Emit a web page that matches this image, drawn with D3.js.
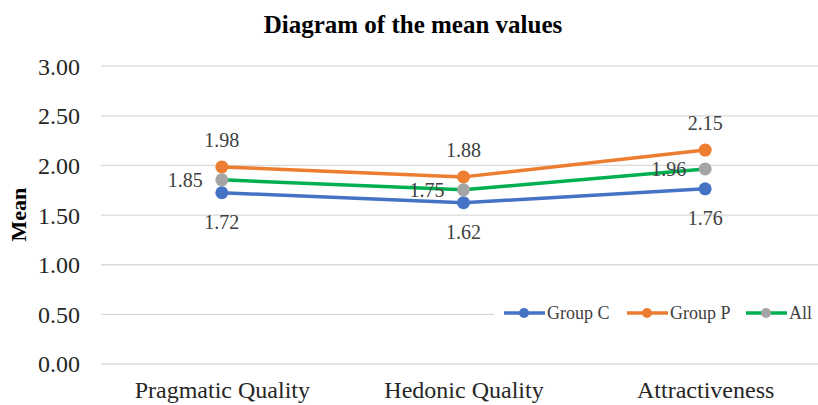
<!DOCTYPE html>
<html>
<head>
<meta charset="utf-8">
<script src="https://cdn.jsdelivr.net/npm/d3@7"></script>
<style>
  html, body { margin: 0; padding: 0; background: #fff; }
  svg { display: block; font-family: "Liberation Serif", "Times New Roman", serif; }
</style>
</head>
<body>
<svg id="chart" width="818" height="405"></svg>
<script>
const categories = ["Pragmatic Quality", "Hedonic Quality", "Attractiveness"];
const seriesNames = ["Group C", "Group P", "All"];
const groupC = [1.72, 1.62, 1.76];
const groupP = [1.98, 1.88, 2.15];
const all = [1.85, 1.75, 1.96];
const yTicks = [0, 0.5, 1, 1.5, 2, 2.5, 3];

const lineColors = ["#4472C4", "#ED7D31", "#00B050"];
const markerColors = ["#4472C4", "#ED7D31", "#A5A5A5"];
const labelPos = ["below", "above", "left"];
const seriesValues = [groupC, groupP, all];

const svg = d3.select("#chart");
const plotLeft = 101, plotRight = 826, plotTop = 65.7, plotBottom = 363.5;

const x = d3.scalePoint().domain(categories).range([plotLeft, plotRight]).padding(0.5);
const y = d3.scaleLinear().domain([0, 3]).range([plotBottom, plotTop]);

// Title
svg.append("text")
  .attr("x", 413).attr("y", 33)
  .attr("text-anchor", "middle")
  .attr("font-weight", "bold")
  .attr("font-size", 25)
  .attr("fill", "#000")
  .text("Diagram of the mean values");

// Gridlines + y tick labels
const yAxis = d3.axisLeft(y).tickValues(yTicks).tickSize(-(plotRight - plotLeft)).tickFormat(d3.format(".2f")).tickPadding(21);
const gy = svg.append("g").attr("transform", `translate(${plotLeft},0)`).call(yAxis);
gy.select(".domain").remove();
gy.selectAll(".tick line").attr("stroke", "#D9D9D9").attr("stroke-width", 1.3);
gy.selectAll(".tick text")
  .attr("font-family", "Liberation Serif, serif")
  .attr("font-size", 24)
  .attr("fill", "#262626")
  .attr("dy", "0.35em");

// X axis labels
const xAxis = d3.axisBottom(x).tickSize(0).tickPadding(17);
const gx = svg.append("g").attr("transform", `translate(0,${plotBottom})`).call(xAxis);
gx.select(".domain").remove();
gx.selectAll(".tick text")
  .attr("font-family", "Liberation Serif, serif")
  .attr("font-size", 24)
  .attr("fill", "#262626");

// Y axis title
svg.append("text")
  .attr("transform", `translate(26,${(plotTop + plotBottom) / 2}) rotate(-90)`)
  .attr("text-anchor", "middle")
  .attr("font-weight", "bold")
  .attr("font-size", 22)
  .attr("fill", "#000")
  .text("Mean");

// Lines and markers
const line = d3.line().x((d, i) => x(categories[i])).y(d => y(d));
seriesValues.forEach((vals, s) => {
  svg.append("path")
    .datum(vals)
    .attr("fill", "none")
    .attr("stroke", lineColors[s])
    .attr("stroke-width", 3.5)
    .attr("stroke-linejoin", "round")
    .attr("d", line);
  svg.selectAll(null).data(vals).enter().append("circle")
    .attr("cx", (d, i) => x(categories[i]))
    .attr("cy", d => y(d))
    .attr("r", 6.5)
    .attr("fill", markerColors[s]);
});

// Data labels
seriesValues.forEach((vals, s) => {
  svg.selectAll(null).data(vals).enter().append("text")
    .attr("x", (d, i) => labelPos[s] === "left" ? x(categories[i]) - 19 : x(categories[i]))
    .attr("y", d => labelPos[s] === "above" ? y(d) - 20 : labelPos[s] === "below" ? y(d) + 36 : y(d) + 7)
    .attr("text-anchor", labelPos[s] === "left" ? "end" : "middle")
    .attr("font-size", 20)
    .attr("fill", "#404040")
    .text(d => d.toFixed(2));
});

// Legend
const legend = svg.append("g");
legend.append("rect").attr("x", 494).attr("y", 301).attr("width", 330).attr("height", 25).attr("fill", "#fff");
const legendX = [504, 627, 746];
seriesNames.forEach((name, s) => {
  const lx = legendX[s], ly = 313;
  legend.append("line").attr("x1", lx).attr("x2", lx + 41).attr("y1", ly).attr("y2", ly)
    .attr("stroke", lineColors[s]).attr("stroke-width", 3.5);
  legend.append("circle").attr("cx", lx + 20).attr("cy", ly).attr("r", 5).attr("fill", markerColors[s]);
  legend.append("text").attr("x", lx + 43).attr("y", ly + 6)
    .attr("font-size", 18).attr("fill", "#404040").text(name);
});
</script>
</body>
</html>
